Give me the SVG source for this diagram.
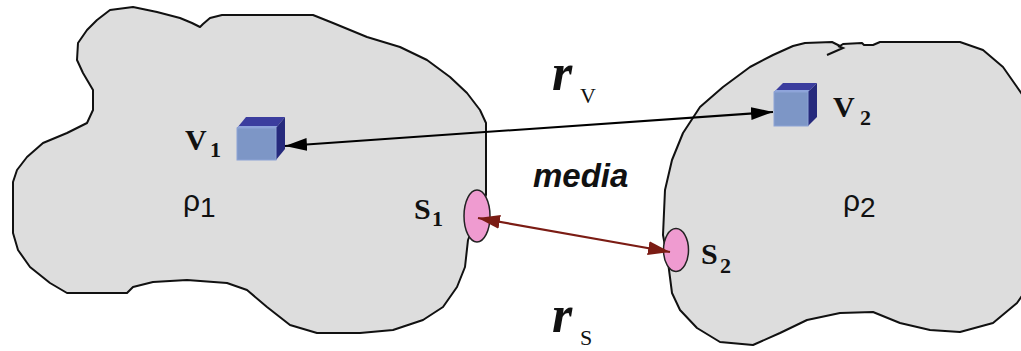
<svg xmlns="http://www.w3.org/2000/svg" width="1021" height="351" viewBox="0 0 1021 351">
<style>
.blob{fill:#dddddd;stroke:#111;stroke-width:2;stroke-linejoin:round}
.lbl{font-family:"Liberation Serif",serif;font-weight:bold;fill:#111}
.rho{font-family:"Liberation Sans",sans-serif;fill:#111}
.r{font-family:"Liberation Serif",serif;font-style:italic;font-weight:bold;fill:#111}
.rs{font-family:"Liberation Serif",serif;fill:#111}
.front{fill:#7d96c6;stroke:#8ea4d6;stroke-width:1}
.top{fill:#3b3d9e}
.strip{fill:#8ea4dc}
.side{fill:#262a7c}
.sens{fill:#ef9bd0;stroke:#222;stroke-width:1.5}
</style>
<defs>
<marker id="ah" markerUnits="userSpaceOnUse" markerWidth="24" markerHeight="14" refX="22" refY="6.5" orient="auto-start-reverse">
<path d="M0,0 L22,6.5 L0,13 z" fill="#000"/>
</marker>
<marker id="ahr" markerUnits="userSpaceOnUse" markerWidth="24" markerHeight="16" refX="22" refY="7" orient="auto-start-reverse">
<path d="M0,0 L22,7 L0,14 z" fill="#7b1c14"/>
</marker>
</defs>
<g id="body1">
<path class="blob" d="M97,20 L110,10 L133,7 L157,12 L180,18 L192,23 L200,27 L203,24 L210,18 L222,15 L313,15 L333,23 L367,37 L400,47 L427,60 L450,77 L467,93 L480,110 L486,123 L486,195 L468,240 L465,267 L457,287 L443,307 L423,320 L393,330 L360,333 L317,333 L290,325 L267,307 L247,290 L227,283 L187,280 L153,282 L133,287 L127,293 L67,293 L50,283 L30,267 L18,250 L13,233 L13,182 L17,170 L27,157 L43,143 L67,133 L87,123 L93,110 L93,90 L83,73 L77,60 L78,43 L87,30 Z"/>
<text class="rho" x="183" y="211" font-size="30">ρ</text>
<text class="rho" x="200" y="217" font-size="28">1</text>
</g>
<g id="body2">
<path class="blob" d="M750,67 L773,55 L793,46 L805,43 L832,42 L840,46 L843,44 L862,43 L864,45 L873,45 L880,42 L960,42 L983,50 L1003,67 L1017,87 L1026,100 L1026,290 L1017,303 L993,323 L960,332 L930,330 L900,323 L873,312 L840,313 L807,320 L780,333 L753,345 L720,342 L697,328 L680,310 L672,293 L668,262 L663,235 L665,190 L672,160 L683,133 L700,107 L723,87 Z"/>
<path d="M827,55 L843,48 L838,46" fill="none" stroke="#111" stroke-width="2"/>
<text class="rho" x="843" y="211" font-size="30">ρ</text>
<text class="rho" x="860" y="217" font-size="28">2</text>
</g>
<g id="V1">
<polygon class="top" points="237,128 246,117 285,117 276,128"/>
<polygon class="strip" points="237,128 238.5,126 277.5,126 276,128"/>
<polygon class="side" points="276,128 285,117 285,149 276,160"/>
<rect class="front" x="237" y="128" width="39" height="32"/>
<text class="lbl" x="185" y="150" font-size="30">V</text>
<text class="lbl" x="210" y="157" font-size="22">1</text>
</g>
<g id="V2">
<polygon class="top" points="774,92 783,83 817,83 808,92"/>
<polygon class="strip" points="774,92 775.5,90 809.5,90 808,92"/>
<polygon class="side" points="808,92 817,83 817,117 808,126"/>
<rect class="front" x="774" y="92" width="34" height="34"/>
<text class="lbl" x="833" y="117" font-size="30">V</text>
<text class="lbl" x="860" y="125" font-size="22">2</text>
</g>
<g id="S1">
<ellipse class="sens" cx="477" cy="216" rx="13" ry="26"/>
<text class="lbl" x="414" y="219" font-size="30">S</text>
<text class="lbl" x="432" y="226" font-size="22">1</text>
</g>
<g id="S2">
<ellipse class="sens" cx="676" cy="250" rx="12.5" ry="21.5"/>
<text class="lbl" x="701" y="264" font-size="30">S</text>
<text class="lbl" x="720" y="273" font-size="22">2</text>
</g>
<g id="connectors">
<line x1="285" y1="146" x2="773" y2="112" stroke="#000" stroke-width="2" marker-start="url(#ah)" marker-end="url(#ah)"/>
<line x1="478" y1="218" x2="670" y2="252" stroke="#7b1c14" stroke-width="2.2" marker-start="url(#ahr)" marker-end="url(#ahr)"/>
</g>
<g id="labels">
<text x="533" y="187" font-size="33" font-family="Liberation Sans, sans-serif" font-weight="bold" font-style="italic" fill="#111">media</text>
<text class="r" x="552" y="90" font-size="52">r</text>
<text class="rs" x="580" y="103" font-size="22">V</text>
<text class="r" x="552" y="332" font-size="52">r</text>
<text class="rs" x="580" y="345" font-size="22">S</text>
</g>
</svg>
